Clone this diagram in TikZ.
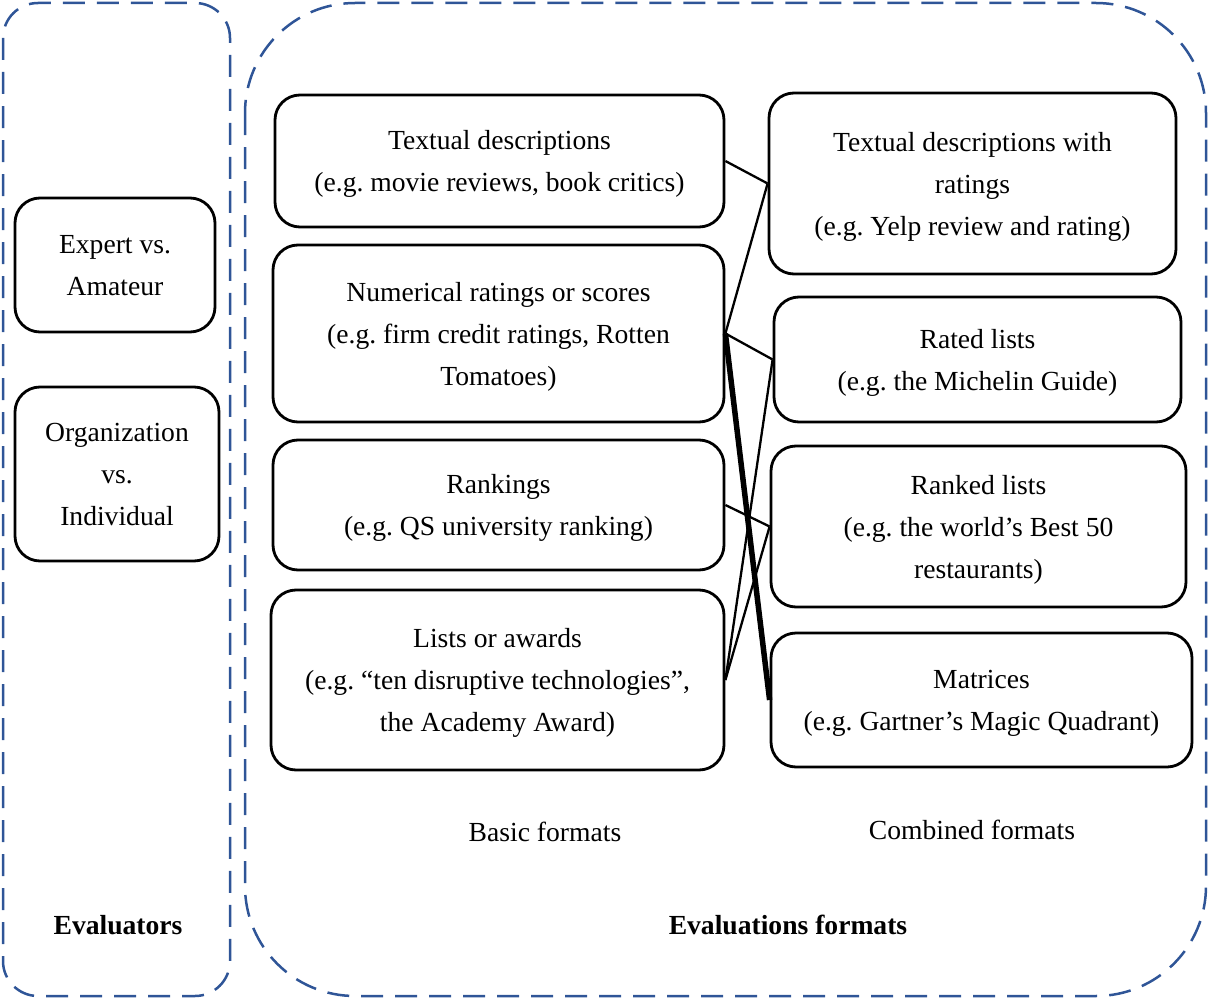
\documentclass[tikz,border=0pt]{standalone}
\usepackage{fontspec}
\setmainfont{Liberation Serif}
\frenchspacing
\usetikzlibrary{positioning}
\definecolor{frameblue}{RGB}{47,85,151}

\begin{document}
\begin{tikzpicture}[x=1pt, y=-1pt,
  fmt/.style={draw, line width=2.8pt, rounded corners=25pt, align=center,
    inner sep=0pt, text depth=0pt, font=\fontsize{27.6}{42}\selectfont},
  group/.style={draw=frameblue, line width=2.5pt, dash pattern=on 22pt off 12pt},
  caption/.style={font=\fontsize{27.6}{42}\selectfont},
  link/.style={line width=2.3pt},
]
\useasboundingbox (0,0) rectangle (1208,998);

% dashed group frames
\draw[group, rounded corners=35pt] (3,3) rectangle (230,996);
\draw[group, rounded corners=110pt] (245,3) rectangle (1206,996);

% evaluators
\node[fmt, minimum width=200, minimum height=134] (expert) at (115,265)
  {Expert vs.\\Amateur};
\node[fmt, minimum width=204, minimum height=174] (org) at (117,474)
  {Organization\\vs.\\Individual};

% basic formats
\node[fmt, minimum width=449, minimum height=132] (textual) at (499.5,161)
  {Textual descriptions\\(e.g. movie reviews, book critics)};
\node[fmt, minimum width=451, minimum height=177] (numeric) at (498.5,333.5)
  {Numerical ratings or scores\\(e.g. firm credit ratings, Rotten\\Tomatoes)};
\node[fmt, minimum width=451, minimum height=130] (rankings) at (498.5,505)
  {Rankings\\(e.g. QS university ranking)};
\node[fmt, minimum width=453, minimum height=180] (awards) at (497.5,680)
  {Lists or awards\\(e.g. “ten disruptive technologies”,\\the Academy Award)};

% combined formats
\node[fmt, minimum width=407, minimum height=181] (txtrated) at (972.5,183.5)
  {Textual descriptions with\\ratings\\(e.g. Yelp review and rating)};
\node[fmt, minimum width=407, minimum height=125] (rated) at (977.5,359.5)
  {Rated lists\\(e.g. the Michelin Guide)};
\node[fmt, minimum width=415, minimum height=161] (ranked) at (978.5,526.5)
  {Ranked lists\\(e.g. the world’s Best 50\\restaurants)};
\node[fmt, minimum width=421, minimum height=134] (matrix) at (981.5,700)
  {Matrices\\(e.g. Gartner’s Magic Quadrant)};

% captions
\node[caption] (basic) at (545,832) {Basic formats};
\node[caption] (combined) at (972,830) {Combined formats};
\node[caption, font=\fontsize{27.6}{42}\selectfont\bfseries] (evaltitle) at (118,925) {Evaluators};
\node[caption, font=\fontsize{27.6}{42}\selectfont\bfseries] (fmttitle) at (788,925) {Evaluations formats};

% links
\draw[link] (textual.east) -- (txtrated.west);
\draw[link] (numeric.east) -- (txtrated.west);
\draw[link] (numeric.east) -- (rated.west);
\draw[line width=5.5pt] (numeric.east) -- (matrix.west);
\draw[link] (rankings.east) -- (ranked.west);
\draw[link] (awards.east) -- (rated.west);
\draw[link] (awards.east) -- (ranked.west);
\end{tikzpicture}
\end{document}
